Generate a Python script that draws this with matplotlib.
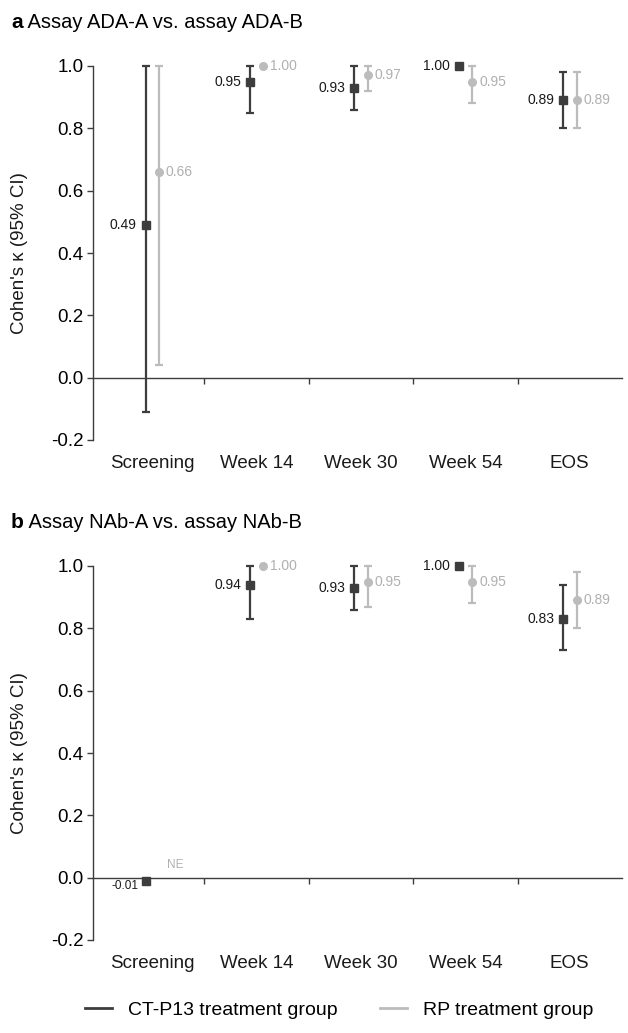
import numpy as np
import matplotlib
matplotlib.use("Agg")
import matplotlib.pyplot as plt
from matplotlib.lines import Line2D
from matplotlib.ticker import FormatStrFormatter

plt.rcParams['font.family'] = ['Liberation Sans', 'DejaVu Sans']
plt.rcParams['axes.unicode_minus'] = False

cats = ['Screening', 'Week 14', 'Week 30', 'Week 54', 'EOS']

# panel a: ADA
a_ct = [0.49, 0.95, 0.93, 1.00, 0.89]
a_ct_lo = [-0.11, 0.85, 0.86, None, 0.80]
a_ct_hi = [1.00, 1.00, 1.00, None, 0.98]
a_rp = [0.66, 1.00, 0.97, 0.95, 0.89]
a_rp_lo = [0.04, None, 0.92, 0.88, 0.80]
a_rp_hi = [1.00, None, 1.00, 1.00, 0.98]

# panel b: NAb
b_ct = [-0.01, 0.94, 0.93, 1.00, 0.83]
b_ct_lo = [None, 0.83, 0.86, None, 0.73]
b_ct_hi = [None, 1.00, 1.00, None, 0.94]
b_rp = [None, 1.00, 0.95, 0.95, 0.89]
b_rp_lo = [None, None, 0.87, 0.88, 0.80]
b_rp_hi = [None, None, 1.00, 1.00, 0.98]

DARK = '#3d3d3d'
LIGHT = '#bcbcbc'
W, H = 628, 1033


def series(ax, vals, lo, hi, off, color, marker, ms, side):
    for i, v in enumerate(vals):
        x = i + off
        if v is None:
            continue
        if lo[i] is not None:
            ax.errorbar([x], [v], yerr=[[v - lo[i]], [hi[i] - v]], fmt='none',
                        ecolor=color, elinewidth=1.6, capsize=3.2, capthick=1.6,
                        clip_on=False, zorder=2)
        ax.plot([x], [v], ls='none', marker=marker, ms=ms, color=color,
                clip_on=False, zorder=3)
        if side == 'left':
            if v < 0.05:
                ax.annotate('%.2f' % v, (x, v), xytext=(-5, -4), textcoords='offset points',
                            ha='right', va='center', fontsize=8.5, color='#1a1a1a')
            else:
                ax.annotate('%.2f' % v, (x, v), xytext=(-6.5, 0), textcoords='offset points',
                            ha='right', va='center', fontsize=10, color='#1a1a1a')
        else:
            ax.annotate('%.2f' % v, (x, v), xytext=(5, 0), textcoords='offset points',
                        ha='left', va='center', fontsize=10, color='#b0b0b0')


def panel(ax_top_px, letter, title, ct, ct_lo, ct_hi, rp, rp_lo, rp_hi):
    bottom_px = ax_top_px + 374
    ax = fig.add_axes([93 / W, 1 - bottom_px / H, 529 / W, 374 / H])
    ax.set_xlim(-0.565, 4.5)
    ax.set_ylim(-0.2, 1.0)
    series(ax, ct, ct_lo, ct_hi, -0.062, DARK, 's', 6, 'left')
    series(ax, rp, rp_lo, rp_hi, 0.067, LIGHT, 'o', 5.5, 'right')
    for i, v in enumerate(rp):
        if v is None:
            ax.annotate('NE', (i + 0.067, 0), xytext=(6, 9), textcoords='offset points',
                        ha='left', va='center', fontsize=8.5, color='#b0b0b0')

    for s in ['top', 'right']:
        ax.spines[s].set_visible(False)
    ax.spines['bottom'].set_position(('data', 0))
    for s in ['left', 'bottom']:
        ax.spines[s].set_color(DARK)
        ax.spines[s].set_linewidth(1.0)
    ax.set_xticks([])
    ax.set_xticks([0.5, 1.5, 2.5, 3.5], minor=True)
    ax.tick_params(axis='x', which='minor', length=4, width=1, color=DARK)
    ax.set_yticks(np.arange(-0.2, 1.01, 0.2))
    ax.yaxis.set_major_formatter(FormatStrFormatter('%.1f'))
    ax.tick_params(axis='y', length=4, width=1, color=DARK, labelsize=13.5, pad=3)
    for i, c in enumerate(cats):
        ax.text(i, -23 / 374, c, transform=ax.get_xaxis_transform(),
                ha='center', va='center', fontsize=13.5, color='#1a1a1a')
    ax.set_ylabel("Cohen's κ (95% CI)", fontsize=13.5, color='#1a1a1a')
    ax.yaxis.set_label_coords(-65 / 529, 0.5)

    ty = 1 - (ax_top_px - 44) / H
    t = fig.text(11 / W, ty, letter, fontsize=15, fontweight='bold', va='center', ha='left')
    ax.annotate(' ' + title, xy=(1, 0.5), xycoords=t, va='center', ha='left', fontsize=14.5)
    return ax


fig = plt.figure(figsize=(W / 100, H / 100), dpi=100)
panel(66, 'a', 'Assay ADA-A vs. assay ADA-B', a_ct, a_ct_lo, a_ct_hi, a_rp, a_rp_lo, a_rp_hi)
panel(566, 'b', 'Assay NAb-A vs. assay NAb-B', b_ct, b_ct_lo, b_ct_hi, b_rp, b_rp_lo, b_rp_hi)

handles = [Line2D([], [], color=DARK, lw=2), Line2D([], [], color=LIGHT, lw=2)]
fig.legend(handles, ['CT-P13 treatment group', 'RP treatment group'], ncol=2,
           loc='center', bbox_to_anchor=(0.54, 1 - 1010 / H), frameon=False,
           fontsize=14, handlelength=1.4, columnspacing=2.2, handletextpad=0.8)

fig.savefig('out.png', dpi=100)
